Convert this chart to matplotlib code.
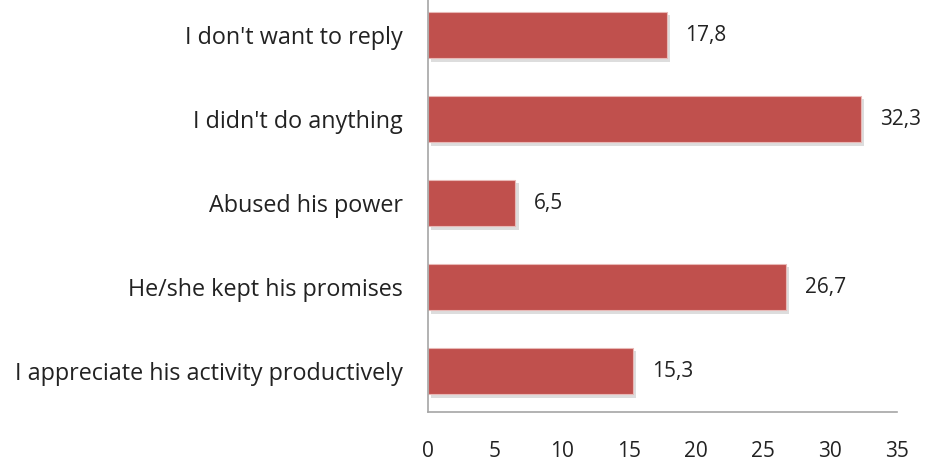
import matplotlib.pyplot as plt
import matplotlib.patheffects as pe

categories = ["I appreciate his activity productively", "He/she kept his promises",
              "Abused his power", "I didn't do anything", "I don't want to reply"]
values = [15.3, 26.7, 6.5, 32.3, 17.8]
xticks = [0, 5, 10, 15, 20, 25, 30, 35]

plt.rcParams['font.family'] = ['Open Sans', 'DejaVu Sans']

fig = plt.figure(figsize=(9.29, 4.61), dpi=100)
ax = fig.add_axes([428 / 929, 49 / 461, 469 / 929, 412 / 461])

pos = list(range(len(categories)))
bars = ax.barh(pos, values, height=0.55, color='#C0504D', edgecolor='#E8B8B6', linewidth=0.8)
for b in bars:
    b.set_path_effects([pe.SimplePatchShadow(offset=(2.5, -2.5), shadow_rgbFace='#909090', alpha=0.3),
                        pe.Normal()])

for p, v in zip(pos, values):
    ax.text(v + 1.4, p, str(v).replace('.', ','), va='center', ha='left', fontsize=15, color='#222222')

ax.set_xlim(0, 35)
ax.set_ylim(-0.488, 4.417)
ax.set_xticks(xticks)
ax.set_yticks(pos)
ax.set_yticklabels(categories)
ax.tick_params(axis='both', length=0, colors='#222222')
ax.tick_params(axis='x', pad=21, labelsize=15)
ax.tick_params(axis='y', pad=18, labelsize=16.8)

for s in ['top', 'right']:
    ax.spines[s].set_visible(False)
for s in ['left', 'bottom']:
    ax.spines[s].set_color('#A6A6A6')
    ax.spines[s].set_linewidth(1.2)

fig.savefig('out.png', dpi=100)
